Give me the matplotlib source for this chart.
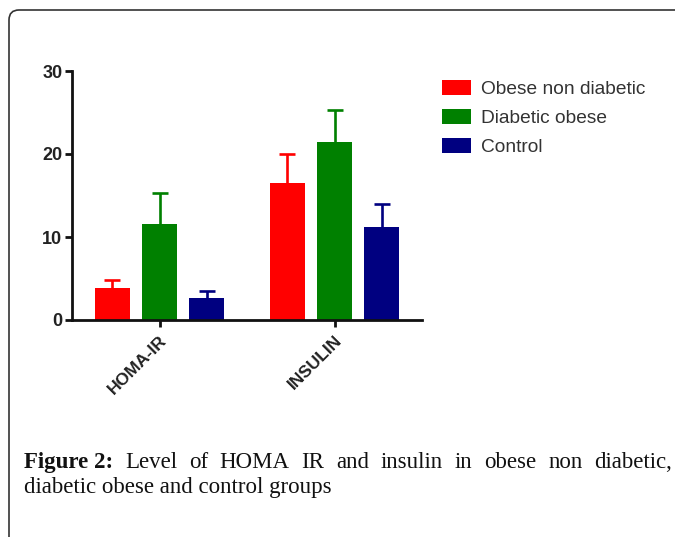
import matplotlib
matplotlib.use("Agg")
import matplotlib.pyplot as plt
import numpy as np
from matplotlib.patches import FancyBboxPatch, Patch

categories = ["HOMA-IR", "INSULIN"]
series = ["Obese non diabetic", "Diabetic obese", "Control"]
means = {
    "Obese non diabetic": [3.9, 16.5],
    "Diabetic obese": [11.6, 21.4],
    "Control": [2.6, 11.2],
}
errors = {
    "Obese non diabetic": [0.9, 3.5],
    "Diabetic obese": [3.7, 3.9],
    "Control": [0.9, 2.8],
}
colors = ["#ff0000", "#008000", "#000080"]
yticks = [0, 10, 20, 30]
caption_bold = "Figure 2:"
caption_line1 = "Level of HOMA IR and insulin in obese non diabetic,"
caption_line2 = "diabetic obese and control groups"

W, H = 675, 537
fig = plt.figure(figsize=(W / 100, H / 100), dpi=100)
fig.patch.set_facecolor("white")

ax = fig.add_axes([72 / W, 1 - 320 / H, (422 - 72) / W, (320 - 71) / H])
x = np.arange(len(categories))
width = 0.2
offs = [-0.271, 0.0, 0.271]
for i, s in enumerate(series):
    ax.bar(x + offs[i], means[s], width, color=colors[i], zorder=2, label=s)
    eb = ax.errorbar(x + offs[i], means[s],
                     yerr=[np.zeros(len(categories)), errors[s]],
                     fmt="none", ecolor=colors[i], elinewidth=1.9, capsize=6,
                     capthick=1.9, zorder=3)
    # hide the lower caps (one-sided error bars)
    eb[1][0].set_visible(False)

ax.set_xlim(-0.5, 1.5)
ax.set_ylim(0, 30)
ax.set_yticks(yticks)
ax.set_yticklabels([str(t) for t in yticks], fontsize=13, fontweight="bold",
                   family="Liberation Sans", color="#222222")
ax.set_xticks(x)
ax.set_xticklabels(categories, rotation=45, ha="right", rotation_mode="anchor",
                   fontsize=12.5, fontweight="bold", family="Liberation Sans",
                   color="#222222")
for sp in ["top", "right"]:
    ax.spines[sp].set_visible(False)
for sp in ["left", "bottom"]:
    ax.spines[sp].set_linewidth(2.0)
    ax.spines[sp].set_color("#111111")
ax.tick_params(axis="y", length=5, width=2.0, pad=2, color="#111111")
ax.tick_params(axis="x", length=5, width=2.0, pad=4, color="#111111")

handles = [Patch(facecolor=c, edgecolor="none") for c in colors]
fig.legend(handles, series, loc="upper left",
           bbox_to_anchor=(442 / W, 1 - 80 / H), bbox_transform=fig.transFigure,
           frameon=False, prop={"family": "Liberation Sans", "size": 13.8},
           handlelength=1.5, handleheight=0.85, handletextpad=0.55,
           labelspacing=0.55, borderpad=0, borderaxespad=0, labelcolor="#333333")

# Rounded border
border = FancyBboxPatch((9, -50), W + 60, H + 50 - 10,
                        boxstyle="round,pad=0,rounding_size=10",
                        transform=None, fill=False, edgecolor="#333333",
                        linewidth=1.2, clip_on=False)
fig.patches.append(border)

# Caption (justified first line)
fig.canvas.draw()
renderer = fig.canvas.get_renderer()
fs = 16.5
serif = "Liberation Serif"
left, right = 24, 672
y1 = H - 468
y2 = H - 493
words = [(caption_bold, "bold")] + [(w, "normal") for w in caption_line1.split()]
texts = []
total = 0
for w, wt in words:
    t = fig.text(0, 0, w, fontsize=fs, family=serif, fontweight=wt,
                 transform=None, color="#111111")
    bb = t.get_window_extent(renderer)
    texts.append((t, bb.width))
    total += bb.width
gap = (right - left - total) / (len(texts) - 1)
xx = left
for t, wdt in texts:
    t.set_position((xx, y1))
    xx += wdt + gap
fig.text(left, y2, caption_line2, fontsize=fs, family=serif,
         transform=None, color="#111111")

fig.savefig("out.png", dpi=100)
